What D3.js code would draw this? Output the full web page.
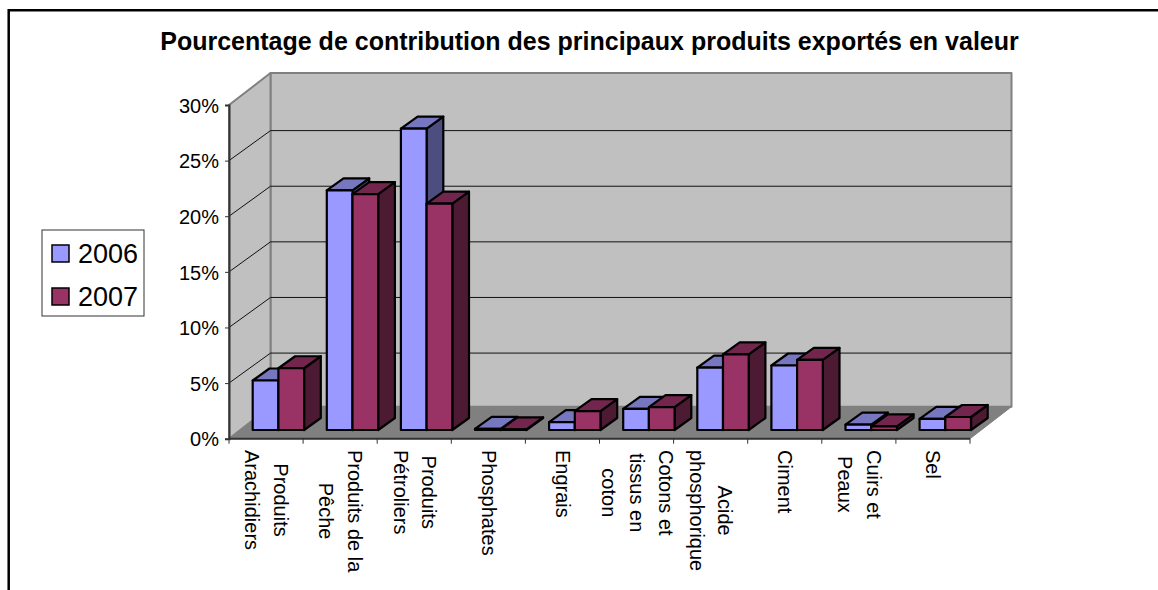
<!DOCTYPE html>
<html>
<head>
<meta charset="utf-8">
<script src="https://cdn.jsdelivr.net/npm/d3@7"></script>
<style>
  html, body { margin: 0; padding: 0; background: #fff; overflow: hidden; }
  text { font-family: "Liberation Sans", Arial, sans-serif; fill: #000; }
</style>
</head>
<body>
<svg id="chart" width="1158" height="590"></svg>
<script>
const title = 'Pourcentage de contribution des principaux produits exportés en valeur'
const categories = ['Arachidiers', 'Peche', 'Petroliers', 'Phosphates', 'Engrais', 'Cotons', 'Acide', 'Ciment', 'Cuirs', 'Sel']
const labelLines = [
    ['Produits', 'Arachidiers'],
    ['Produits de la', 'Pêche'],
    ['Produits', 'Pétroliers'],
    ['Phosphates'],
    ['Engrais'],
    ['Cotons et', 'tissus en', 'coton'],
    ['Acide', 'phosphorique'],
    ['Ciment'],
    ['Cuirs et', 'Peaux'],
    ['Sel']
]
const seriesNames = ['2006', '2007']
const values2006 = [4.45, 21.55, 27.1, 0.1, 0.7, 1.9, 5.6, 5.8, 0.48, 1.0]
const values2007 = [5.55, 21.2, 20.35, 0.05, 1.7, 2.05, 6.8, 6.3, 0.33, 1.17]
const yTicks = [0, 5, 10, 15, 20, 25, 30]

const colors = {
    2006: {front: '#9999ff', top: '#7777bf', side: '#4d4d80'},
    2007: {front: '#993366', top: '#73264d', side: '#4d1a33'}
}

// plot geometry
const plot = {left: 229, right: 970, bottom: 438.7, top: 105, depthX: 41.5, depthY: 32, gridDepthY: 30}
const bar = {inset: 23.7, width: 25.7, depthX: 16.7, depthY: 12, floorY: 8.7}

const svg = d3.select('#chart')
const x = d3.scaleBand().domain(categories).range([plot.left, plot.right])
const y = d3.scaleLinear().domain([0, 30]).range([plot.bottom, plot.top])
const line = d3.line()

function poly(g, pts, fill, stroke, width){
    return g.append('path')
        .attr('d', line(pts) + 'Z')
        .attr('fill', fill)
        .attr('stroke', stroke)
        .attr('stroke-width', width)
        .attr('stroke-linejoin', 'round')
}

function drawWalls(){
    const g = svg.append('g')
    const l = plot.left, r = plot.right, b = plot.bottom, t = plot.top
    const dx = plot.depthX, dy = plot.depthY

    poly(g, [[l + dx, t - dy], [r + dx, t - dy], [r + dx, b - dy], [l + dx, b - dy]], '#c0c0c0', '#808080', 2)
    poly(g, [[l, t], [l + dx, t - dy], [l + dx, b - dy], [l, b]], '#c0c0c0', '#808080', 2)
    poly(g, [[l, b], [l + dx, b - dy], [r + dx, b - dy], [r, b]], '#808080', '#808080', 1)

    // gridlines on back and side wall
    yTicks.filter(d => d > 0 && d < 30).forEach(d => {
        g.append('path')
            .attr('d', line([[l, y(d)], [l + dx, y(d) - plot.gridDepthY], [r + dx, y(d) - plot.gridDepthY]]))
            .attr('fill', 'none')
            .attr('stroke', '#111')
            .attr('stroke-width', 1)
    })
}

function drawAxes(){
    const yAxis = d3.axisLeft(y).tickValues(yTicks).tickSize(4).tickFormat(d => d + '%')
    const yG = svg.append('g').attr('transform', `translate(${plot.left},0)`).call(yAxis)
    yG.select('.domain').attr('stroke', '#333').attr('stroke-width', 2)
    yG.selectAll('.tick line').attr('stroke', '#333')
    yG.selectAll('text').style('font-size', '20px').attr('x', -10).attr('dy', '0.36em')

    const edges = categories.map(c => x(c)).concat(plot.right)
    const xG = svg.append('g')
    xG.append('line')
        .attr('x1', plot.left).attr('x2', plot.right)
        .attr('y1', plot.bottom).attr('y2', plot.bottom)
        .attr('stroke', '#333').attr('stroke-width', 2)
    xG.selectAll('line.tick').data(edges).join('line')
        .attr('class', 'tick')
        .attr('x1', d => d).attr('x2', d => d)
        .attr('y1', plot.bottom).attr('y2', plot.bottom + 5)
        .attr('stroke', '#333')
}

function drawBars(){
    const g = svg.append('g')
    categories.forEach((c, i) => {
        seriesNames.forEach((s, j) => {
            const v = (j === 0 ? values2006 : values2007)[i]
            const col = colors[s]
            const x0 = x(c) + bar.inset + j * bar.width
            const x1 = x0 + bar.width
            const yb = plot.bottom - bar.floorY
            const yt = y(v) - bar.floorY
            const dx = bar.depthX, dy = bar.depthY

            poly(g, [[x1, yt], [x1 + dx, yt - dy], [x1 + dx, yb - dy], [x1, yb]], col.side, '#000', 2.2)
            poly(g, [[x0, yt], [x0 + dx, yt - dy], [x1 + dx, yt - dy], [x1, yt]], col.top, '#000', 2.2)
            poly(g, [[x0, yt], [x1, yt], [x1, yb], [x0, yb]], col.front, '#000', 2.2)
        })
    })
}

function drawCategoryLabels(){
    const lineGap = 28.5
    categories.forEach((c, i) => {
        const lines = labelLines[i]
        const cx = x(c) + x.bandwidth() / 2
        const g = svg.append('g').attr('class', 'catLabel')
        lines.forEach((t, k) => {
            const lx = cx + ((lines.length - 1) / 2 - k) * lineGap
            g.append('text')
                .attr('transform', `translate(${lx - 6.5},0) rotate(90)`)
                .style('font-size', '20px')
                .text(t)
        })
        // centre every line on the longest one, block starts just below the axis
        const texts = g.selectAll('text')
        const maxLen = d3.max(texts.nodes(), n => n.getComputedTextLength())
        texts.each(function(){
            const len = this.getComputedTextLength()
            d3.select(this).attr('x', 450 + (maxLen - len) / 2)
        })
    })
}

function drawLegend(){
    const g = svg.append('g')
    g.append('rect')
        .attr('x', 42).attr('y', 230).attr('width', 102).attr('height', 86)
        .attr('fill', '#fff').attr('stroke', '#333').attr('stroke-width', 1)
    const rows = d3.scalePoint().domain(seriesNames).range([253.5, 296.5])
    seriesNames.forEach(s => {
        g.append('rect')
            .attr('x', 52).attr('y', rows(s) - 8.5).attr('width', 17).attr('height', 17)
            .attr('fill', colors[s].front).attr('stroke', '#000').attr('stroke-width', 1.5)
        g.append('text')
            .attr('x', 78).attr('y', rows(s) + 9.5)
            .style('font-size', '27px')
            .text(s)
    })
}

function drawFrame(){
    svg.append('path')
        .attr('d', line([[8.7, 590], [8.7, 10.3], [1158, 10.3]]))
        .attr('fill', 'none').attr('stroke', '#000').attr('stroke-width', 2.5)
    svg.append('text')
        .attr('x', 589.5).attr('y', 50)
        .attr('text-anchor', 'middle')
        .style('font-size', '25px')
        .style('font-weight', 'bold')
        .text(title)
}

drawFrame()
drawWalls()
drawAxes()
drawBars()
drawCategoryLabels()
drawLegend()
</script>
</body>
</html>
